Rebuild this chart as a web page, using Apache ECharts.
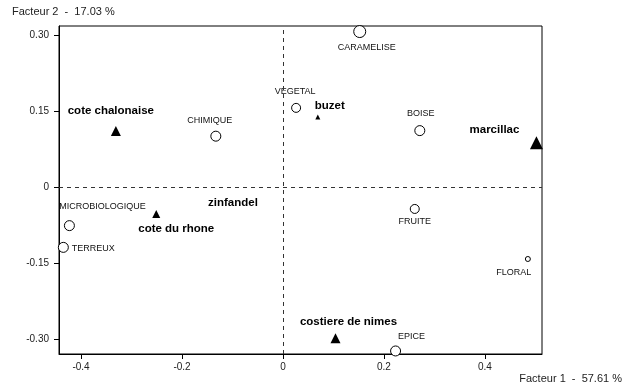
<!DOCTYPE html>
<html><head><meta charset="utf-8">
<script src="https://cdn.jsdelivr.net/npm/echarts@6/dist/echarts.min.js"></script>
<style>html,body{margin:0;padding:0;background:#fff}#c{width:626px;height:390px}</style>
</head><body><div id="c"></div>
<script>
// Descriptors (circles)
const descNames = ['CARAMELISE','VEGETAL','BOISE','CHIMIQUE','MICROBIOLOGIQUE','TERREUX','FRUITE','FLORAL','EPICE'];
const descX = [0.152, 0.026, 0.271, -0.133, -0.423, -0.435, 0.261, 0.485, 0.223];
const descY = [0.308, 0.157, 0.112, 0.101, -0.076, -0.119, -0.043, -0.142, -0.324];
// Wines (triangles)
const wineNames = ['buzet','marcillac','cote chalonaise','cote du rhone','zinfandel','costiere de nimes'];
const wineX = [0.069, 0.502, -0.331, -0.251, -0.099, 0.104];
const wineY = [0.139, 0.088, 0.111, -0.053, -0.031, -0.299];
// Axis ticks
const xTicks = [-0.4, -0.2, 0, 0.2, 0.4];
const yTicks = [-0.30, -0.15, 0, 0.15, 0.30];
const xTitle = 'Facteur 1  -  57.61 %';
const yTitle = 'Facteur 2  -  17.03 %';

// styles (not data)
const descSize = [12, 9, 10, 10, 10, 10, 9, 5, 10];
const descOff = [[7,16],[-1,-16],[1,-17],[-6,-16],[33,-19],[30,1],[0,13],[-14,14],[16,-14]];
const wineSize = [5, 13, 10, 8, 0, 10];
const wineOff = [[12,-11],[-42,-13],[-5,-20],[20,15],[0,0],[13,-17]];

const FONT = '"Liberation Sans", Arial, sans-serif';

const descData = descNames.map((n,i)=>({
  name:n, value:[descX[i],descY[i]], symbolSize:descSize[i],
  label:{offset:descOff[i]}
}));
const wineData = wineNames.map((n,i)=>({
  name:n, value:[wineX[i],wineY[i]], symbolSize:wineSize[i],
  label:{offset:wineOff[i]}
}));

const chart = echarts.init(document.getElementById('c'));
chart.setOption({
  animation:false,
  textStyle:{fontFamily:FONT},
  grid:{left:59,right:84,top:26,bottom:36,show:true,borderColor:'#000',borderWidth:1,backgroundColor:'transparent'},
  graphic:[
    {type:'text',left:12,top:6,style:{text:yTitle,font:'11px '+FONT,fill:'#222'}},
    {type:'text',right:4,top:373,style:{text:xTitle,font:'11px '+FONT,fill:'#222'}}
  ],
  xAxis:{
    type:'value',min:-0.4436,max:0.513,
    axisLine:{show:true,onZero:false,lineStyle:{color:'#000'}},
    axisTick:{show:true,length:5,lineStyle:{color:'#000'},customValues:xTicks},
    axisLabel:{color:'#222',fontSize:10,fontFamily:FONT,margin:8,customValues:xTicks,
      formatter:v=>Math.abs(v)<1e-9?'0':v.toFixed(1)},
    splitLine:{show:false}
  },
  yAxis:{
    type:'value',min:-0.330,max:0.319,
    axisLine:{show:true,onZero:false,lineStyle:{color:'#000'}},
    axisTick:{show:true,length:5,lineStyle:{color:'#000'},customValues:yTicks},
    axisLabel:{color:'#222',fontSize:10,fontFamily:FONT,margin:10,customValues:yTicks,
      formatter:v=>Math.abs(v)<1e-9?'0':v.toFixed(2)},
    splitLine:{show:false}
  },
  series:[
    {
      type:'scatter',name:'descripteurs',data:descData,symbol:'circle',clip:false,
      itemStyle:{color:'#fff',borderColor:'#000',borderWidth:1,opacity:1},
      label:{show:true,position:'inside',formatter:'{b}',color:'#111',opacity:1,fontSize:9,fontFamily:FONT,align:'center',verticalAlign:'middle'},
      markLine:{silent:true,symbol:'none',label:{show:false},
        lineStyle:{color:'#333',type:[4,4],width:1,opacity:1},
        data:[{xAxis:0},{yAxis:0}]},
      z:3
    },
    {
      type:'scatter',name:'vins',data:wineData,symbol:'triangle',clip:false,
      itemStyle:{color:'#000',opacity:1},
      label:{show:true,position:'inside',formatter:'{b}',color:'#000',opacity:1,fontSize:11.5,fontWeight:'bold',fontFamily:FONT,align:'center',verticalAlign:'middle'},
      z:4
    }
  ]
});
</script></body></html>
